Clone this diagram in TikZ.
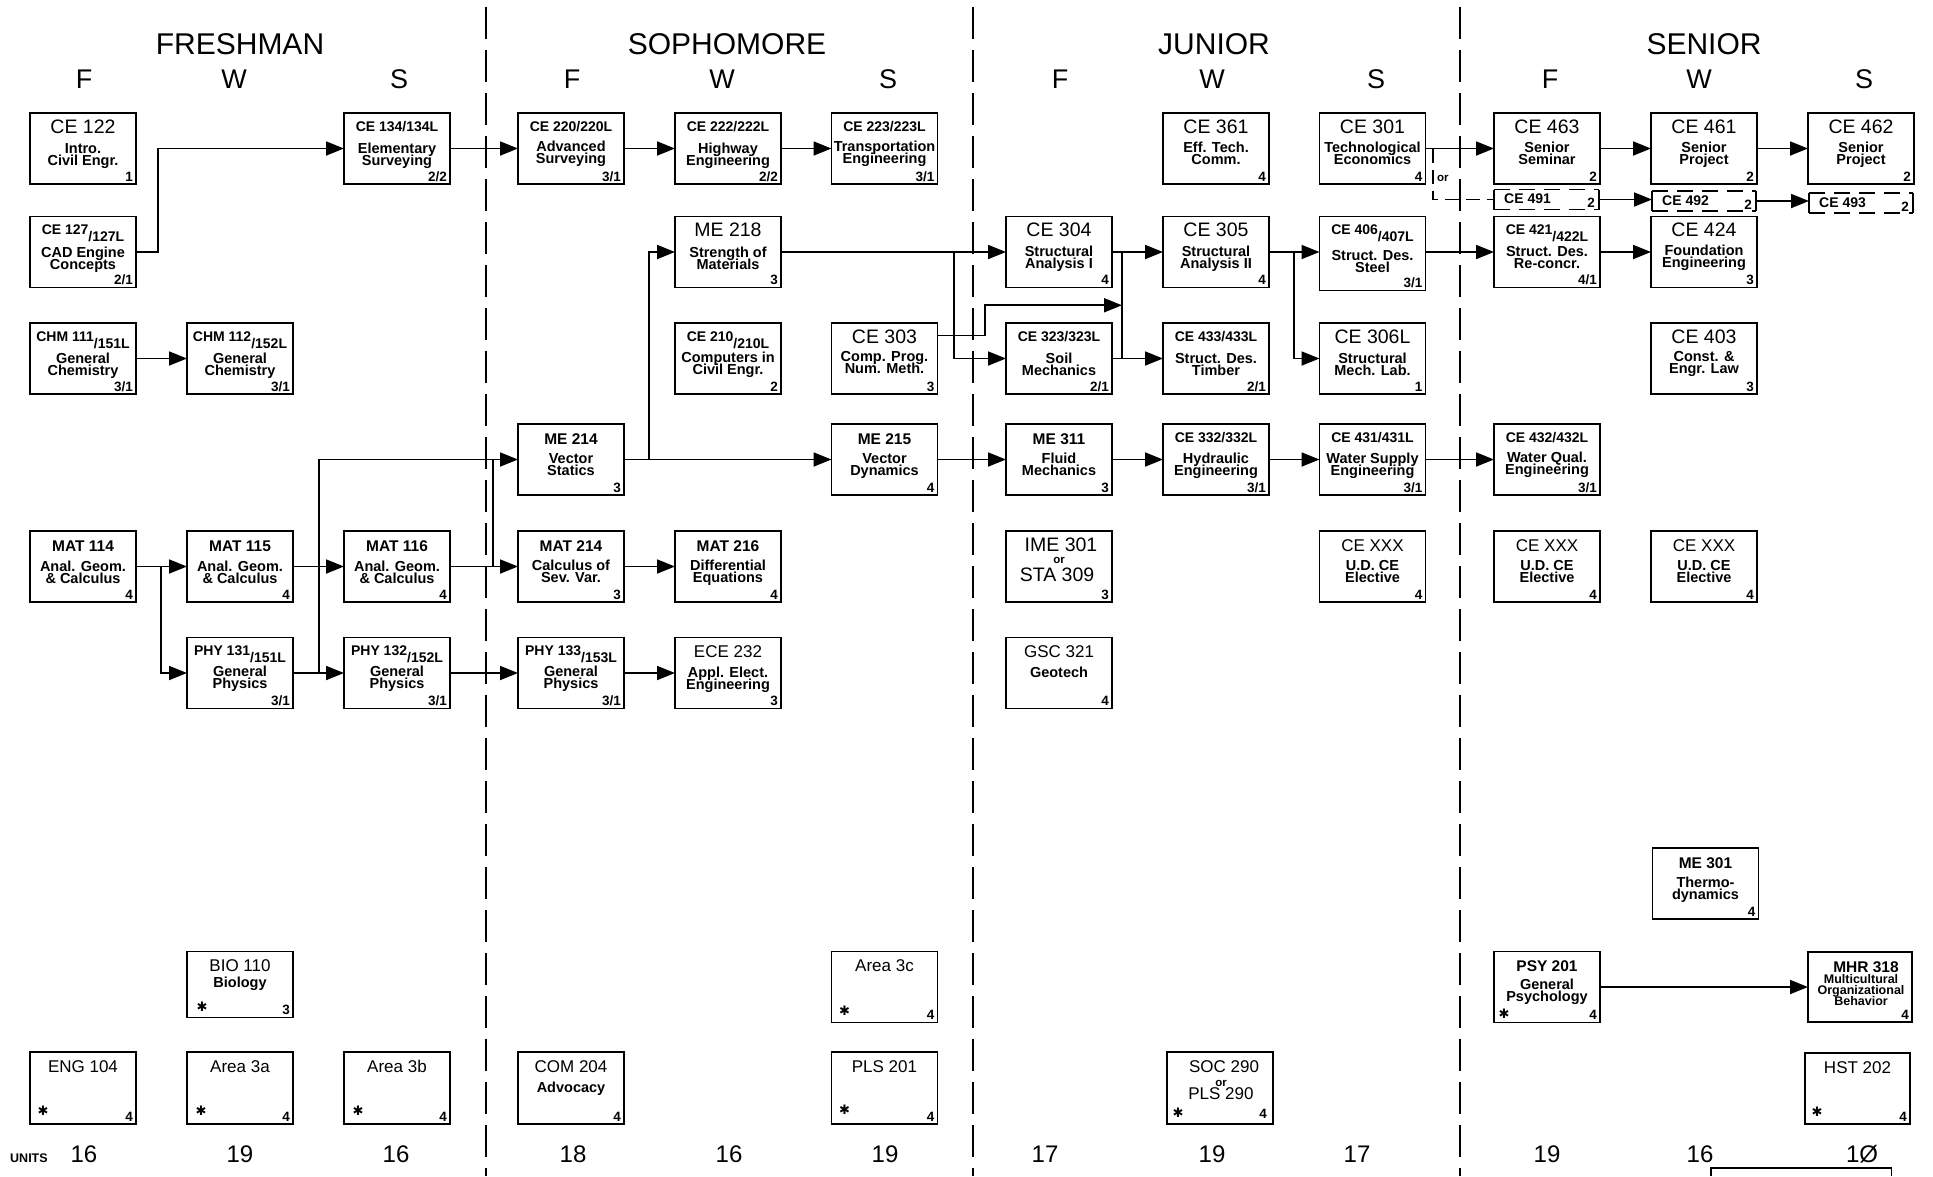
\documentclass[tikz,border=0pt]{standalone}
\usepackage{fontspec}
\setmainfont{Liberation Sans}
\newfontfamily\djv{DejaVu Sans}
\usetikzlibrary{arrows.meta,calc}
\newdimen\dbs \dbs=12pt
\newcommand\lns[1]{\vtop{\baselineskip=\dbs\lineskiplimit=-100pt\lineskip=0pt\halign{\hfil##\hfil\cr#1\crcr}}}
\newcommand\lw[1]{\raisebox{-7pt}{#1}}
\newcommand\crs[8]{%
 \node[box,#8] (#1) at (#2) {};
 \node[#3] (#1-t) at ($(#1.north)+(0,20)$) {#4};
 \node[desc] (#1-d) at ($(#1.north)+(0,#7)$) {\lns{#5}};
 \node[cred] (#1-c) at ($(#1.south east)+(-3,-3)$) {#6};
}
\tikzset{
 box/.style={draw, line width=1.8pt, minimum width=106pt, minimum height=71pt, anchor=north west, inner sep=0pt, outer sep=0pt},
 dbox/.style={minimum width=104pt, minimum height=20pt, anchor=north west, inner sep=0pt, outer sep=0pt},
 big/.style={anchor=base, inner sep=0pt, font=\fontsize{19.5}{22}\selectfont},
 midt/.style={anchor=base, inner sep=0pt, font=\fontsize{17}{20}\selectfont},
 midb/.style={anchor=base, inner sep=0pt, font=\bfseries\fontsize{15.5}{18}\selectfont},
 smallb/.style={anchor=base, inner sep=0pt, yshift=2pt, font=\bfseries\fontsize{14}{15}\selectfont},
 desc/.style={anchor=base, inner sep=0pt, font=\bfseries\fontsize{14.5}{12}\selectfont},
 cred/.style={anchor=base east, inner sep=0pt, font=\bfseries\fontsize{13.5}{14}\selectfont},
 orlbl/.style={anchor=base, inner sep=0pt, font=\bfseries\fontsize{11.5}{12}\selectfont},
 ast/.style={inner sep=0pt, font=\djv\fontsize{13}{14}\selectfont},
 arr/.style={line width=1.8pt, -{Triangle[length=18pt,width=14pt]}},
 ln/.style={line width=1.8pt},
 divider/.style={line width=1.8pt, dash pattern=on 32pt off 11pt},
 orline/.style={line width=1.8pt, dash pattern=on 14pt off 7pt},
 dedge/.style={line width=1.8pt, dash pattern=on 16pt off 9pt},
 hdr/.style={anchor=base, inner sep=0pt, font=\fontsize{30}{36}\selectfont},
 sem/.style={anchor=base, inner sep=0pt, font=\fontsize{27}{30}\selectfont},
 units/.style={anchor=base, inner sep=0pt, font=\fontsize{24}{28}\selectfont},
}
\begin{document}
\begin{tikzpicture}[x=1pt,y=-1pt]
\useasboundingbox[fill=white] (0,0) rectangle (1933,1176);

% dividers
\draw[divider] (486,7) -- (486,1176);
\draw[divider] (973,7) -- (973,1176);
\draw[divider] (1460,7) -- (1460,1176);

% headers
\node[hdr] (hfr) at (240,54) {FRESHMAN};
\node[hdr] (hso) at (727,54) {SOPHOMORE};
\node[hdr] (hjr) at (1214,54) {JUNIOR};
\node[hdr] (hsr) at (1704,54) {SENIOR};
\node[sem] (s1) at (84,88) {F};
\node[sem] (s2) at (234,88) {W};
\node[sem] (s3) at (399,88) {S};
\node[sem] (s4) at (572,88) {F};
\node[sem] (s5) at (722,88) {W};
\node[sem] (s6) at (888,88) {S};
\node[sem] (s7) at (1060,88) {F};
\node[sem] (s8) at (1212,88) {W};
\node[sem] (s9) at (1376,88) {S};
\node[sem] (s10) at (1550,88) {F};
\node[sem] (s11) at (1699,88) {W};
\node[sem] (s12) at (1864,88) {S};

% ---------- Freshman
\crs{ce122}{30,113}{big}{CE 122}{Intro.\cr Civil Engr.}{1}{40}{}
\crs{ce127}{30,216.5}{smallb}{CE 127\lw{/127L}}{CAD Engine\cr Concepts}{2/1}{41}{}
\crs{ce134}{344,113}{smallb}{CE 134/134L}{Elementary\cr Surveying}{2/2}{40.5}{}
\crs{chm111}{30,323}{smallb}{CHM 111\lw{/151L}}{General\cr Chemistry}{3/1}{40.5}{}
\crs{chm112}{187,323}{smallb}{CHM 112\lw{/152L}}{General\cr Chemistry}{3/1}{40.5}{}
\crs{mat114}{30,531}{midb}{MAT 114}{Anal. Geom.\cr \& Calculus}{4}{40}{}
\crs{mat115}{187,531}{midb}{MAT 115}{Anal. Geom.\cr \& Calculus}{4}{40}{}
\crs{mat116}{344,531}{midb}{MAT 116}{Anal. Geom.\cr \& Calculus}{4}{40}{}
\crs{phy131}{187,637.5}{smallb}{PHY 131\lw{/151L}}{General\cr Physics}{3/1}{38.5}{}
\crs{phy132}{344,637.5}{smallb}{PHY 132\lw{/152L}}{General\cr Physics}{3/1}{38.5}{}
\crs{bio110}{187,951.5}{midt}{BIO 110}{Biology}{3}{36}{minimum height=66pt}
\crs{eng104}{30,1052}{midt}{ENG 104}{}{4}{40}{minimum height=72pt}
\crs{area3a}{187,1052}{midt}{Area 3a}{}{4}{40}{minimum height=72pt}
\crs{area3b}{344,1052}{midt}{Area 3b}{}{4}{40}{minimum height=72pt}
\node[ast] (bio110-a) at ($(bio110.south west)+(15,-11)$) {✱};
\node[ast] (eng104-a) at ($(eng104.south west)+(13,-13)$) {✱};
\node[ast] (area3a-a) at ($(area3a.south west)+(14,-13)$) {✱};
\node[ast] (area3b-a) at ($(area3b.south west)+(14,-13)$) {✱};

% ---------- Sophomore
\crs{ce220}{518,113}{smallb}{CE 220/220L}{Advanced\cr Surveying}{3/1}{38.5}{}
\crs{ce222}{675,113}{smallb}{CE 222/222L}{Highway\cr Engineering}{2/2}{40}{}
\crs{ce223}{831.5,113}{smallb}{CE 223/223L}{Transportation\cr Engineering}{3/1}{38.5}{}
\crs{me218}{675,216.5}{big}{ME 218}{Strength of\cr Materials}{3}{40.5}{}
\crs{ce210}{675,323}{smallb}{CE 210\lw{/210L}}{Computers in\cr Civil Engr.}{2}{39.5}{}
\crs{ce303}{831.5,323}{big}{CE 303}{Comp. Prog.\cr Num. Meth.}{3}{38}{}
\crs{me214}{518,424}{midb}{ME 214}{Vector\cr Statics}{3}{39}{}
\crs{me215}{831.5,424}{midb}{ME 215}{Vector\cr Dynamics}{4}{39}{}
\crs{mat214}{518,531}{midb}{MAT 214}{Calculus of\cr Sev. Var.}{3}{39}{}
\crs{mat216}{675,531}{midb}{MAT 216}{Differential\cr Equations}{4}{39}{}
\crs{phy133}{518,637.5}{smallb}{PHY 133\lw{/153L}}{General\cr Physics}{3/1}{39}{}
\crs{ece232}{675,637.5}{midt}{ECE 232}{Appl. Elect.\cr Engineering}{3}{40}{}
\crs{area3c}{831.5,951.5}{midt}{Area 3c}{}{4}{40}{}
\crs{com204}{518,1052}{midt}{COM 204}{Advocacy}{4}{40}{minimum height=72pt}
\crs{pls201}{831.5,1052}{midt}{PLS 201}{}{4}{40}{minimum height=72pt}
\node[ast] (area3c-a) at ($(area3c.south west)+(13,-12)$) {✱};
\node[ast] (pls201-a) at ($(pls201.south west)+(13,-14)$) {✱};

% ---------- Junior
\crs{ce304}{1006,216.5}{big}{CE 304}{Structural\cr Analysis I}{4}{40}{}
\crs{ce323}{1006,323}{smallb}{CE 323/323L}{Soil\cr Mechanics}{2/1}{40}{}
\crs{me311}{1006,424}{midb}{ME 311}{Fluid\cr Mechanics}{3}{39}{}
\node[box] (ime301) at (1006,531) {};
\node[big] (ime301-t) at ($(ime301.north)+(2,20)$) {IME 301};
\node[orlbl] (ime301-o) at ($(ime301.north)+(0,32)$) {or};
\node[big] (ime301-b) at ($(ime301.north)+(-2,50)$) {STA 309};
\node[cred] (ime301-c) at ($(ime301.south east)+(-3,-3)$) {3};
\crs{gsc321}{1006,637.5}{midt}{GSC 321}{Geotech}{4}{40}{}
\crs{ce361}{1163,113}{big}{CE 361}{Eff. Tech.\cr Comm.}{4}{39}{}
\crs{ce305}{1163,216.5}{big}{CE 305}{Structural\cr Analysis II}{4}{40}{}
\crs{ce433}{1163,323}{smallb}{CE 433/433L}{Struct. Des.\cr Timber}{2/1}{40}{}
\crs{ce332}{1163,424}{smallb}{CE 332/332L}{Hydraulic\cr Engineering}{3/1}{39}{}
\node[box, minimum height=72pt] (soc290) at (1167,1052) {};
\node[midt] (soc290-t) at ($(soc290.north)+(4,20)$) {SOC 290};
\node[orlbl] (soc290-o) at ($(soc290.north)+(1,34)$) {or};
\node[midt] (soc290-b) at ($(soc290.north)+(1,47.5)$) {PLS 290};
\node[cred] (soc290-c) at ($(soc290.south east)+(-6,-6)$) {4};
\node[ast] (soc290-a) at ($(soc290.south west)+(11,-11)$) {✱};
\crs{ce301}{1319.5,113}{big}{CE 301}{Technological\cr Economics}{4}{39}{}
\crs{ce406}{1319.5,216.5}{smallb}{CE 406\lw{/407L}}{Struct. Des.\cr Steel}{3/1}{44}{minimum height=74pt}
\crs{ce306l}{1319.5,323}{big}{CE 306L}{Structural\cr Mech. Lab.}{1}{40}{}
\crs{ce431}{1319.5,424}{smallb}{CE 431/431L}{Water Supply\cr Engineering}{3/1}{39}{}
\crs{cexa}{1319.5,531}{midt}{CE XXX}{U.D. CE\cr Elective}{4}{39}{}

% ---------- Senior
\crs{ce463}{1494,113}{big}{CE 463}{Senior\cr Seminar}{2}{39.5}{}
\crs{ce461}{1651,113}{big}{CE 461}{Senior\cr Project}{2}{39.5}{}
\crs{ce462}{1808,113}{big}{CE 462}{Senior\cr Project}{2}{39.5}{}
\node[dbox, minimum width=105pt] (ce491) at (1494,189.5) {};
\node[dbox] (ce492) at (1652,191) {};
\node[dbox] (ce493) at (1809,193) {};
\foreach \n/\t in {ce491/CE 491,ce492/CE 492,ce493/CE 493}{
  \draw[dedge] (\n.north west) -- (\n.north east) (\n.south west) -- (\n.south east);
  \draw[ln] (\n.north west) -- (\n.south west) (\n.north east) -- (\n.south east);
  \node[smallb, yshift=0pt, anchor=base west] (\n-t) at ($(\n.south west)+(10,-4)$) {\t};
  \node[cred] (\n-c) at ($(\n.south east)+(-4,-2)$) {2};
}
\crs{ce421}{1494,216.5}{smallb}{CE 421\lw{/422L}}{Struct. Des.\cr Re-concr.}{4/1}{40}{}
\crs{ce424}{1651,216.5}{big}{CE 424}{Foundation\cr Engineering}{3}{39}{}
\crs{ce403}{1651,323}{big}{CE 403}{Const. \&\cr Engr. Law}{3}{38.5}{}
\crs{ce432}{1494,424}{smallb}{CE 432/432L}{Water Qual.\cr Engineering}{3/1}{38.5}{}
\crs{cexb}{1494,531}{midt}{CE XXX}{U.D. CE\cr Elective}{4}{39}{}
\crs{cexc}{1651,531}{midt}{CE XXX}{U.D. CE\cr Elective}{4}{39}{}
\crs{me301}{1652.5,848}{midb}{ME 301}{Thermo-\cr dynamics}{4}{39}{}
\crs{psy201}{1494,951.5}{midb}{PSY 201}{General\cr Psychology}{4}{38}{}
\node[ast] (psy201-a) at ($(psy201.south west)+(10,-9)$) {✱};
\node[box, minimum width=104pt, minimum height=70pt] (mhr318) at (1808,952) {};
\node[midb] (mhr318-t) at ($(mhr318.north)+(6,20.5)$) {MHR 318};
\node[desc, font=\bfseries\fontsize{12.5}{11}\selectfont] (mhr318-d) at ($(mhr318.north)+(1,31.5)$) {\dbs=10.8pt\lns{Multicultural\cr Organizational\cr Behavior}};
\node[cred] (mhr318-c) at ($(mhr318.south east)+(-3,-3)$) {4};
\crs{hst202}{1805,1053}{midt}{HST 202}{}{4}{40}{minimum width=105pt}
\node[ast] (hst202-a) at ($(hst202.south west)+(12,-12)$) {✱};

% partial box at bottom edge
\draw[ln] (1711,1176) -- (1711,1168) -- (1891.5,1168) -- (1891.5,1176);

% ---------- connectors
\draw[arr] (ce127.east) -- ++(22,0) |- (ce134.west);
\draw[arr] (ce134.east) -- (ce134.east -| ce220.west);
\draw[arr] (ce220.east) -- (ce220.east -| ce222.west);
\draw[arr] (ce222.east) -- (ce222.east -| ce223.west);
\draw[arr] (chm111.east) -- (chm111.east -| chm112.west);
\draw[arr] (mat114.east) -- (mat114.east -| mat115.west);
\draw[arr] (mat114.east) -- ++(25,0) |- (phy131.west);
\draw[arr] (mat115.east) -- (mat115.east -| mat116.west);
\draw[arr] (phy131.east) -- (phy131.east -| phy132.west);
\draw[arr] (phy131.east) -- ++(25.6,0) |- (me214.west);
\coordinate (j3) at ($(mat116.east)+(43,0)$);
\draw[ln] (j3) -- (j3 |- me214.west);
\draw[arr] (mat116.east) -- (mat116.east -| mat214.west);
\draw[arr] (phy132.east) -- (phy132.east -| phy133.west);
\draw[arr] (mat214.east) -- (mat214.east -| mat216.west);
\draw[arr] (phy133.east) -- (phy133.east -| ece232.west);
\draw[arr] (me214.east) -- (me214.east -| me215.west);
\draw[arr] (me214.east) -- ++(25.3,0) |- (me218.west);
\draw[arr] (me218.east) -- (me218.east -| ce304.west);
\draw[arr] (me218.east) -- ++(173,0) |- (ce323.west);
\coordinate (b1) at ($(ce304.east)+(10,0)$);
\coordinate (b2) at (b1 |- ce323.east);
\coordinate (b3) at ($(b1)!0.5!(b2)$);
\draw[ln] (b1) -- (b2);
\draw[arr] ($(ce303.east)+(0,-23)$) -- ++(47.4,0) |- (b3);
\draw[arr] (ce304.east) -- (ce304.east -| ce305.west);
\draw[arr] (ce323.east) -- (ce323.east -| ce433.west);
\draw[arr] (ce305.east) -- (ce305.east -| ce406.west);
\draw[arr] (ce305.east) -- ++(24.6,0) |- (ce306l.west);
\draw[arr] (ce421.west -| ce406.east) -- (ce421.west);
\draw[arr] (ce421.east) -- (ce421.east -| ce424.west);
\draw[arr] (ce301.east) -- (ce301.east -| ce463.west);
\draw[arr] (ce463.east) -- (ce463.east -| ce461.west);
\draw[arr] (ce461.east) -- (ce461.east -| ce462.west);
\coordinate (orj) at ($(ce301.east)+(7.3,0)$);
\draw[orline] (orj) |- (ce491.west);
\node[orlbl, anchor=base west] (orl) at (1437,181) {or};
\draw[arr] (ce491.east) -- (ce491.east -| ce492.west);
\draw[arr] (ce492.east) -- (ce492.east -| ce493.west);
\draw[arr] (me215.east) -- (me215.east -| me311.west);
\draw[arr] (me311.east) -- (me311.east -| ce332.west);
\draw[arr] (ce332.east) -- (ce332.east -| ce431.west);
\draw[arr] (ce431.east) -- (ce431.east -| ce432.west);
\draw[arr] (psy201.east) -- (psy201.east -| mhr318.west);

% ---------- units
\node[anchor=base west, inner sep=0pt, font=\bfseries\fontsize{12.5}{13}\selectfont] (ulbl) at (10,1162) {UNITS};
\node[units] (u1) at (84,1162) {16};
\node[units] (u2) at (240,1162) {19};
\node[units] (u3) at (396,1162) {16};
\node[units] (u4) at (573,1162) {18};
\node[units] (u5) at (729,1162) {16};
\node[units] (u6) at (885,1162) {19};
\node[units] (u7) at (1045,1162) {17};
\node[units] (u8) at (1212,1162) {19};
\node[units] (u9) at (1357,1162) {17};
\node[units] (u10) at (1547,1162) {19};
\node[units] (u11) at (1700,1162) {16};
\node[units] (u12) at (1862,1162) {1Ø};
\end{tikzpicture}
\end{document}
